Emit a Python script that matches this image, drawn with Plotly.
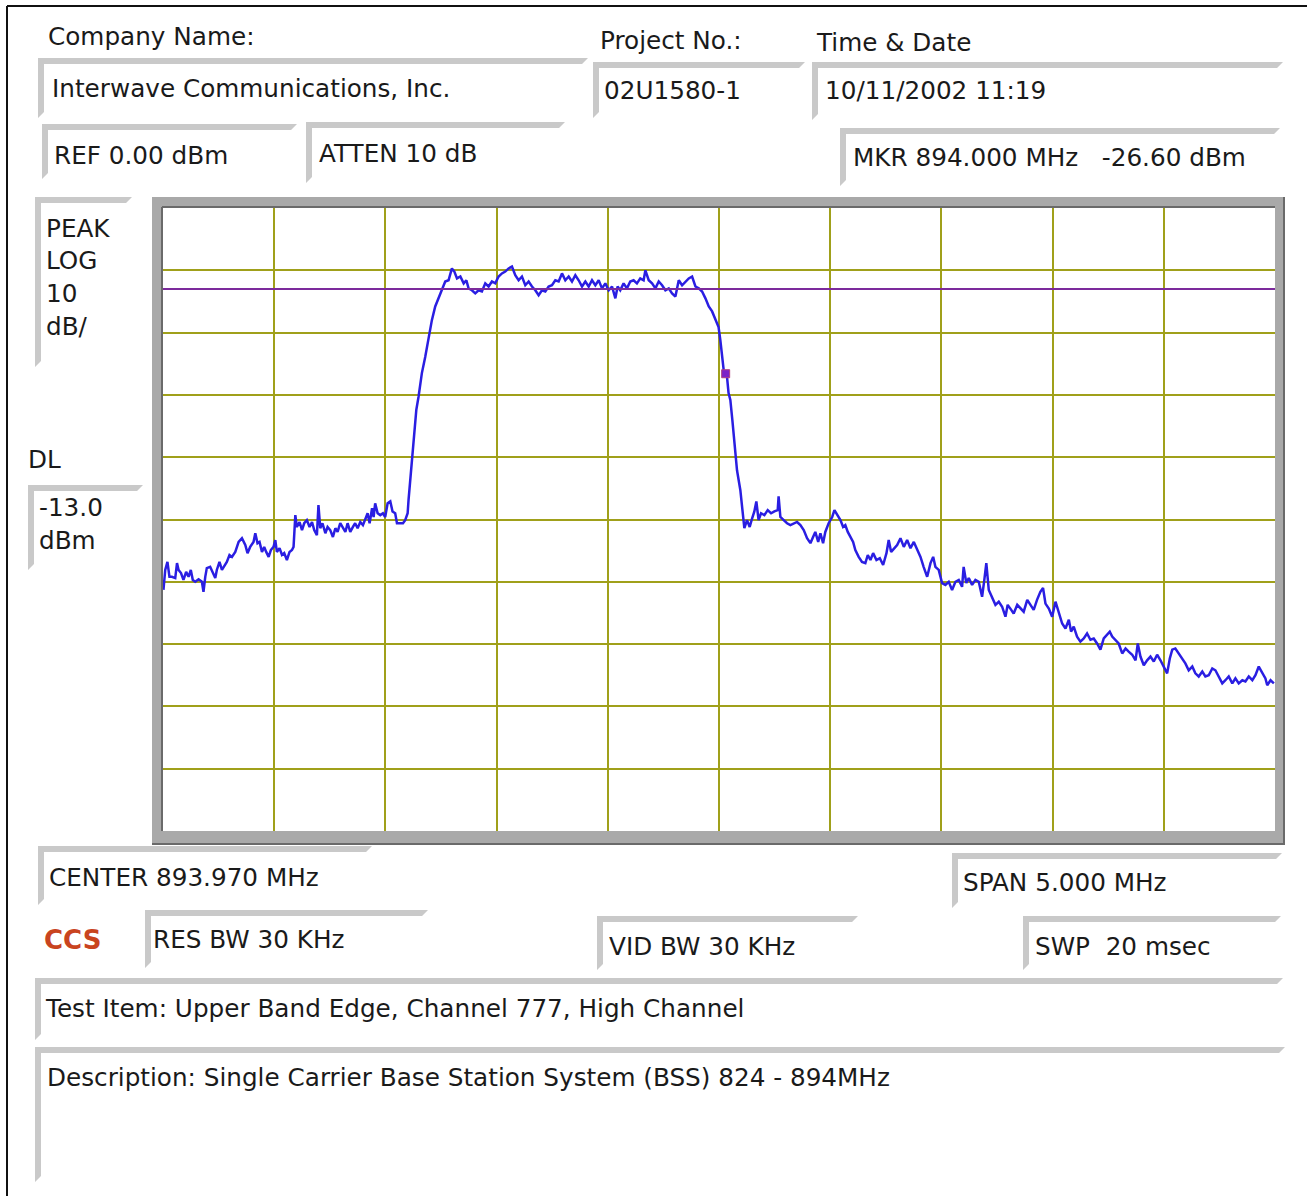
import plotly.graph_objects as go

# Peak trace of the sweep: frequency (MHz) and level (dBm)
freq_mhz = [
    891.472, 891.480, 891.490, 891.499, 891.510, 891.525, 891.533, 891.540, 891.551, 891.562,
    891.574, 891.585, 891.595, 891.604, 891.615, 891.630, 891.645, 891.652, 891.660, 891.667,
    891.682, 891.694, 891.705, 891.712, 891.724, 891.735, 891.745, 891.757, 891.769, 891.780,
    891.795, 891.810, 891.825, 891.840, 891.850, 891.862, 891.877, 891.885, 891.895, 891.904,
    891.915, 891.925, 891.934, 891.945, 891.955, 891.967, 891.975, 891.982, 891.994, 892.005,
    892.015, 892.027, 892.039, 892.050, 892.057, 892.065, 892.072, 892.084, 892.095, 892.105,
    892.117, 892.129, 892.140, 892.150, 892.162, 892.169, 892.177, 892.187, 892.200, 892.210,
    892.222, 892.234, 892.245, 892.255, 892.267, 892.279, 892.290, 892.300, 892.312, 892.324,
    892.334, 892.345, 892.357, 892.369, 892.379, 892.390, 892.399, 892.410, 892.417, 892.424,
    892.435, 892.447, 892.459, 892.469, 892.480, 892.492, 892.502, 892.514, 892.522, 892.534,
    892.549, 892.559, 892.570, 892.574, 892.582, 892.591, 892.600, 892.609, 892.619, 892.634,
    892.649, 892.664, 892.679, 892.694, 892.709, 892.724, 892.739, 892.754, 892.769, 892.780,
    892.792, 892.807, 892.822, 892.834, 892.844, 892.859, 892.874, 892.889, 892.904, 892.919,
    892.934, 892.949, 892.964, 892.979, 892.994, 893.009, 893.024, 893.039, 893.054, 893.069,
    893.084, 893.099, 893.114, 893.129, 893.144, 893.159, 893.174, 893.189, 893.204, 893.219,
    893.234, 893.249, 893.264, 893.279, 893.294, 893.309, 893.324, 893.339, 893.354, 893.369,
    893.384, 893.399, 893.414, 893.429, 893.444, 893.459, 893.474, 893.489, 893.504, 893.514,
    893.526, 893.541, 893.556, 893.571, 893.586, 893.601, 893.616, 893.631, 893.639, 893.654,
    893.669, 893.684, 893.699, 893.714, 893.729, 893.744, 893.759, 893.774, 893.789, 893.804,
    893.819, 893.834, 893.849, 893.864, 893.879, 893.894, 893.909, 893.924, 893.939, 893.954,
    893.968, 893.976, 893.984, 893.991, 894.000, 894.006, 894.013, 894.021, 894.030, 894.039,
    894.051, 894.066, 894.074, 894.084, 894.096, 894.108, 894.119, 894.129, 894.138, 894.148,
    894.159, 894.174, 894.189, 894.204, 894.219, 894.234, 894.238, 894.246, 894.261, 894.276,
    894.291, 894.306, 894.321, 894.336, 894.351, 894.366, 894.381, 894.393, 894.403, 894.416,
    894.426, 894.438, 894.448, 894.463, 894.479, 894.489, 894.501, 894.516, 894.528, 894.538,
    894.549, 894.561, 894.573, 894.583, 894.598, 894.613, 894.628, 894.639, 894.651, 894.663,
    894.678, 894.693, 894.708, 894.723, 894.733, 894.744, 894.759, 894.771, 894.786, 894.801,
    894.816, 894.831, 894.846, 894.861, 894.876, 894.890, 894.906, 894.921, 894.933, 894.943,
    894.958, 894.973, 894.988, 895.003, 895.018, 895.033, 895.048, 895.063, 895.070, 895.082,
    895.093, 895.108, 895.123, 895.138, 895.153, 895.163, 895.172, 895.183, 895.198, 895.213,
    895.228, 895.243, 895.258, 895.268, 895.284, 895.295, 895.311, 895.325, 895.340, 895.356,
    895.370, 895.385, 895.400, 895.415, 895.427, 895.438, 895.453, 895.468, 895.483, 895.498,
    895.513, 895.528, 895.543, 895.553, 895.565, 895.580, 895.595, 895.610, 895.625, 895.640,
    895.655, 895.670, 895.685, 895.700, 895.715, 895.727, 895.738, 895.753, 895.767, 895.783,
    895.798, 895.812, 895.828, 895.843, 895.853, 895.865, 895.880, 895.895, 895.910, 895.925,
    895.940, 895.955, 895.970, 895.985, 895.997, 896.008, 896.022, 896.037, 896.053, 896.067,
    896.082, 896.098, 896.112, 896.127, 896.143, 896.157, 896.172, 896.188, 896.202, 896.217,
    896.233, 896.247, 896.262, 896.278, 896.292, 896.307, 896.323, 896.337, 896.352, 896.368,
    896.382, 896.397, 896.413, 896.427, 896.435, 896.450, 896.465,
]
level_dbm = [
    -61.3, -58.1, -56.8, -59.2, -59.2, -59.4, -57.0, -58.1, -58.6, -59.7,
    -58.4, -59.2, -58.1, -59.7, -60.0, -59.6, -60.0, -61.6, -59.2, -57.8,
    -57.6, -58.6, -59.4, -58.1, -56.8, -58.1, -57.6, -56.8, -55.7, -56.0,
    -55.2, -53.6, -53.0, -54.1, -55.4, -54.4, -53.6, -52.2, -53.8, -53.6,
    -55.2, -54.4, -55.2, -56.0, -54.9, -54.4, -53.3, -55.2, -54.6, -55.7,
    -55.4, -56.5, -55.2, -54.9, -54.4, -49.3, -51.2, -50.4, -51.7, -50.6,
    -50.1, -51.2, -50.4, -51.7, -52.5, -47.7, -51.4, -50.6, -52.2, -51.2,
    -51.7, -52.8, -51.4, -52.0, -50.6, -51.4, -52.0, -50.6, -52.0, -51.2,
    -50.6, -51.4, -50.4, -50.9, -50.1, -49.0, -50.6, -48.2, -49.6, -47.4,
    -49.0, -49.3, -49.0, -49.6, -47.4, -47.1, -48.7, -49.0, -50.6, -50.6,
    -50.6, -50.1, -49.0, -46.9, -43.7, -39.6, -35.6, -32.4, -30.3, -26.5,
    -23.9, -20.7, -18.0, -15.8, -14.4, -13.2, -11.8, -11.6, -9.7, -10.2,
    -11.3, -11.0, -12.1, -11.6, -12.9, -13.2, -13.7, -13.2, -13.4, -12.1,
    -12.6, -11.8, -12.1, -11.0, -10.5, -10.2, -9.7, -9.4, -10.8, -11.6,
    -11.0, -12.4, -11.8, -12.6, -13.2, -14.0, -13.2, -13.4, -12.6, -12.4,
    -11.6, -11.8, -10.5, -11.6, -11.0, -11.8, -10.8, -11.6, -12.6, -11.8,
    -12.6, -11.6, -12.4, -11.6, -12.9, -12.1, -13.2, -12.6, -14.5, -12.6,
    -13.2, -12.1, -12.9, -11.8, -11.6, -12.1, -11.3, -11.6, -10.0, -11.6,
    -12.1, -12.9, -11.8, -12.4, -13.2, -12.9, -13.7, -14.2, -11.6, -12.4,
    -11.8, -11.3, -11.0, -12.6, -12.9, -13.4, -14.5, -15.8, -16.6, -18.0,
    -19.1, -21.2, -23.9, -26.0, -26.6, -27.1, -29.7, -30.8, -34.0, -38.0,
    -42.1, -45.3, -48.5, -51.4, -50.1, -51.2, -49.8, -48.7, -47.1, -50.1,
    -49.0, -49.3, -48.5, -49.0, -48.7, -48.5, -46.3, -49.6, -50.1, -50.6,
    -50.9, -50.6, -50.4, -50.9, -51.7, -53.0, -53.8, -52.8, -52.0, -53.6,
    -52.2, -53.8, -52.0, -50.6, -49.6, -48.5, -49.3, -50.1, -51.2, -50.9,
    -52.0, -52.8, -53.6, -54.9, -56.0, -56.8, -57.0, -55.7, -56.5, -55.4,
    -56.5, -56.2, -57.3, -55.4, -53.3, -55.2, -54.6, -54.1, -53.0, -54.4,
    -53.3, -54.6, -53.6, -54.9, -56.0, -57.6, -59.2, -57.0, -56.0, -57.6,
    -58.1, -60.2, -60.5, -60.0, -61.3, -60.0, -59.7, -60.8, -57.6, -60.2,
    -59.4, -60.5, -59.7, -60.0, -62.4, -59.7, -57.0, -61.3, -62.6, -63.7,
    -63.2, -64.0, -65.6, -63.7, -64.5, -65.1, -63.7, -64.3, -64.8, -62.9,
    -63.7, -64.5, -62.9, -61.6, -61.0, -63.5, -64.3, -65.6, -63.2, -64.8,
    -66.7, -67.5, -66.1, -68.0, -67.2, -68.8, -69.6, -69.1, -68.3, -69.3,
    -69.1, -69.9, -70.9, -69.1, -68.5, -68.0, -68.8, -69.3, -69.9, -71.5,
    -70.7, -71.2, -71.7, -72.6, -69.9, -72.0, -73.4, -72.6, -72.0, -72.8,
    -71.7, -72.6, -73.6, -74.7, -72.3, -70.9, -70.7, -71.5, -72.3, -73.1,
    -74.2, -73.6, -74.7, -75.2, -74.4, -75.2, -75.0, -73.9, -74.2, -75.2,
    -76.3, -75.8, -75.2, -76.3, -75.5, -76.3, -75.8, -76.0, -75.2, -75.8,
    -75.0, -73.6, -74.7, -75.5, -76.6, -75.8, -76.3,
]

# Analyzer settings
center_mhz = 893.970
span_mhz = 5.000
ref_dbm = 0.00
db_per_div = 10
display_line_dbm = -13.0
marker_mhz = 894.000
marker_dbm = -26.60

# Header / footer texts
company = "Interwave Communications, Inc."
project_no = "02U1580-1"
time_date = "10/11/2002 11:19"
atten_db = 10
res_bw = "30 KHz"
vid_bw = "30 KHz"
sweep = "20 msec"
test_item = "Test Item: Upper Band Edge, Channel 777, High Channel"
description = "Description: Single Carrier Base Station System (BSS) 824 - 894MHz"

# ---------------------------------------------------------------- layout
W, H = 1307, 1196
ML, MR, MT, MB = 163, 32, 208, 365
PW = W - ML - MR
PH = H - MT - MB
FONT = "DejaVu Sans"
NB = "\u00a0"


def px(x):
    return (x - ML) / PW


def py(y):
    return (H - MB - y) / PH


fig = go.Figure()

fig.add_trace(go.Scatter(
    x=freq_mhz, y=level_dbm, mode="lines",
    line=dict(color="#2a1ee2", width=2.5),
    hoverinfo="skip",
))
fig.add_trace(go.Scatter(
    x=[marker_mhz], y=[marker_dbm], mode="markers",
    marker=dict(symbol="square", size=8, color="#7b22c8",
                line=dict(color="#b04080", width=1)),
    hoverinfo="skip",
))

shapes = []

# display line
shapes.append(dict(type="line", xref="paper", yref="y", x0=0, x1=1,
                   y0=display_line_dbm, y1=display_line_dbm,
                   line=dict(color="#7c2a9c", width=2), layer="above"))

# raised frame around the graticule
band = "#a9a9a9"
fx0, fy0, fx1, fy1 = 152, 197, 1285, 845
ix0, iy0, ix1, iy1 = ML, MT, W - MR, H - MB
for (a, b, c, d) in [(fx0, fy0, fx1, iy0), (fx0, fy0, ix0, fy1),
                     (ix1, fy0, fx1, fy1), (fx0, iy1, fx1, fy1)]:
    shapes.append(dict(type="rect", xref="paper", yref="paper",
                       x0=px(a), x1=px(c), y0=py(b), y1=py(d),
                       fillcolor=band, line=dict(width=0), layer="above"))
dark = "#6a6a6a"
for (a, b, c, d) in [(ix0 - 1, iy0 - 1, ix1, iy0 - 1), (ix0 - 1, iy0 - 1, ix0 - 1, iy1),
                     (fx0, fy1 - 1, fx1, fy1 - 1), (fx1 - 1, fy0, fx1 - 1, fy1)]:
    shapes.append(dict(type="line", xref="paper", yref="paper",
                       x0=px(a), x1=px(c), y0=py(b), y1=py(d),
                       line=dict(color=dark, width=2), layer="above"))

# page border
shapes.append(dict(type="line", xref="paper", yref="paper",
                   x0=px(7), x1=px(W), y0=py(6), y1=py(6),
                   line=dict(color="#111111", width=2)))
shapes.append(dict(type="line", xref="paper", yref="paper",
                   x0=px(7), x1=px(7), y0=py(6), y1=py(H),
                   line=dict(color="#111111", width=2)))


def bevel(x0, y0, x1, y1, t=6):
    path = (f"M{px(x0)},{py(y0)} L{px(x1)},{py(y0)} L{px(x1 - t)},{py(y0 + t)} "
            f"L{px(x0 + t)},{py(y0 + t)} L{px(x0 + t)},{py(y1 - t)} L{px(x0)},{py(y1)} Z")
    return dict(type="path", xref="paper", yref="paper", path=path,
                fillcolor="#c9c9c9", line=dict(width=0), layer="above")


boxes = [
    (38, 58, 588, 118), (42, 124, 297, 179), (306, 122, 565, 183),
    (593, 62, 805, 118), (812, 62, 1283, 120), (840, 128, 1280, 186),
    (35, 197, 132, 367), (28, 485, 143, 570),
    (38, 846, 372, 905), (952, 853, 1282, 908),
    (145, 910, 428, 968), (597, 916, 858, 970), (1023, 916, 1281, 970),
    (35, 978, 1283, 1040), (35, 1047, 1285, 1182),
]
for bx in boxes:
    shapes.append(bevel(*bx))

labels = [
    ("Company Name:", 46, 37),
    (company, 50, 89),
    (f"REF {ref_dbm:.2f} dBm", 52, 155),
    (f"ATTEN {atten_db} dB", 317, 153),
    ("Project No.:", 598, 40),
    (project_no, 602, 91),
    ("Time & Date", 814, 42),
    (time_date, 823, 91),
    (f"MKR {marker_mhz:.3f} MHz{NB}{NB} {marker_dbm:.2f} dBm", 851, 158),
    ("PEAK", 44, 228), ("LOG", 44, 260), (f"{db_per_div}", 44, 293), ("dB/", 44, 326),
    ("DL", 26, 459),
    (f"{display_line_dbm:.1f}", 37, 507), ("dBm", 37, 540),
    (f"CENTER {center_mhz:.3f} MHz", 47, 877),
    (f"SPAN {span_mhz:.3f} MHz", 961, 882),
    (f"RES BW {res_bw}", 151, 939),
    (f"VID BW {vid_bw}", 607, 946),
    (f"SWP{NB} {sweep}", 1033, 946),
    (test_item, 43, 1008),
    (description, 45, 1077),
]
annotations = []
for text, x, y in labels:
    annotations.append(dict(text=text, x=px(x), y=py(y), xref="paper", yref="paper",
                            xanchor="left", yanchor="middle", showarrow=False,
                            font=dict(family=FONT, size=24.7, color="#1a1a1a")))
annotations.append(dict(text="<b>CCS</b>", x=px(42), y=py(940), xref="paper", yref="paper",
                        xanchor="left", yanchor="middle", showarrow=False,
                        font=dict(family=FONT, size=26, color="#c9441f")))

grid = "#a0a01a"
fig.update_layout(
    width=W, height=H, autosize=False,
    margin=dict(l=ML, r=MR, t=MT, b=MB, pad=0),
    paper_bgcolor="white", plot_bgcolor="white",
    showlegend=False,
    shapes=shapes, annotations=annotations,
    xaxis=dict(range=[center_mhz - span_mhz / 2, center_mhz + span_mhz / 2],
               tick0=center_mhz - span_mhz / 2, dtick=span_mhz / 10,
               showticklabels=False, ticks="", showgrid=True,
               gridcolor=grid, gridwidth=2, zeroline=False, showline=False,
               fixedrange=True),
    yaxis=dict(range=[ref_dbm - 10 * db_per_div, ref_dbm],
               tick0=ref_dbm, dtick=db_per_div,
               showticklabels=False, ticks="", showgrid=True,
               gridcolor=grid, gridwidth=2, zeroline=False, showline=False,
               fixedrange=True),
)

fig.write_html("out.html", config={"displayModeBar": False})
